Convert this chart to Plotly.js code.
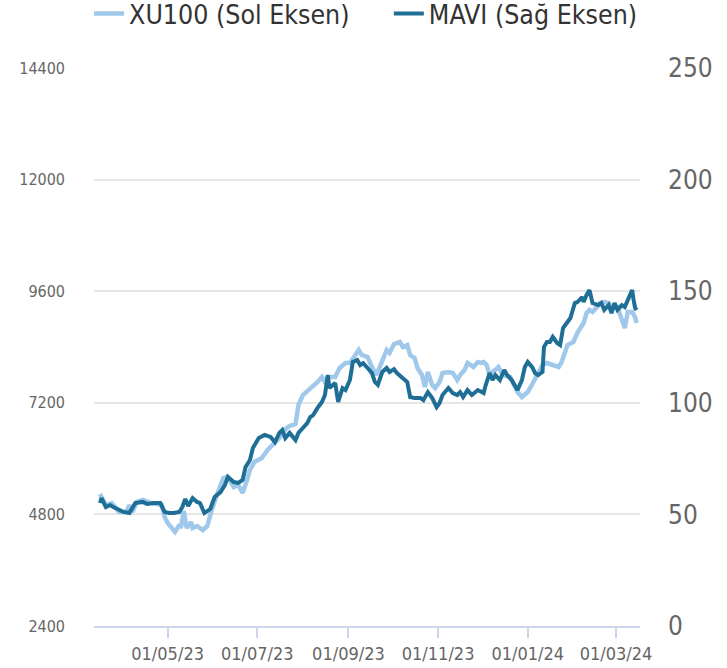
<!DOCTYPE html>
<html>
<head>
<meta charset="utf-8">
<script src="https://cdn.plot.ly/plotly-3.0.1.min.js"></script>
<style>html,body{margin:0;padding:0;background:#fff;}#chart{width:727px;height:668px;}</style>
</head>
<body>
<div id="chart"></div>
<script>
const seriesNames = ["XU100 (Sol Eksen)", "MAVI (Sağ Eksen)"];

const xuDates = ["2023-03-16","2023-03-20","2023-03-24","2023-03-29","2023-04-03","2023-04-05","2023-04-07","2023-04-10","2023-04-14","2023-04-20","2023-04-27","2023-04-29","2023-05-01","2023-05-04","2023-05-06","2023-05-09","2023-05-10","2023-05-12","2023-05-14","2023-05-17","2023-05-18","2023-05-21","2023-05-25","2023-05-28","2023-05-31","2023-06-04","2023-06-08","2023-06-11","2023-06-15","2023-06-18","2023-06-21","2023-06-24","2023-06-26","2023-06-29","2023-07-04","2023-07-08","2023-07-13","2023-07-16","2023-07-21","2023-07-23","2023-07-27","2023-07-29","2023-08-01","2023-08-05","2023-08-07","2023-08-11","2023-08-14","2023-08-16","2023-08-18","2023-08-23","2023-08-26","2023-08-30","2023-09-02","2023-09-06","2023-09-08","2023-09-10","2023-09-14","2023-09-17","2023-09-20","2023-09-22","2023-09-25","2023-09-27","2023-09-29","2023-10-02","2023-10-06","2023-10-08","2023-10-11","2023-10-13","2023-10-16","2023-10-18","2023-10-21","2023-10-23","2023-10-25","2023-10-28","2023-10-30","2023-11-02","2023-11-04","2023-11-08","2023-11-11","2023-11-14","2023-11-16","2023-11-19","2023-11-21","2023-11-25","2023-11-28","2023-11-30","2023-12-02","2023-12-04","2023-12-06","2023-12-08","2023-12-12","2023-12-15","2023-12-20","2023-12-22","2023-12-25","2023-12-28","2024-01-01","2024-01-03","2024-01-05","2024-01-07","2024-01-11","2024-01-14","2024-01-18","2024-01-22","2024-01-24","2024-01-26","2024-01-28","2024-02-01","2024-02-04","2024-02-08","2024-02-10","2024-02-12","2024-02-14","2024-02-17","2024-02-19","2024-02-22","2024-02-25","2024-02-27","2024-02-29","2024-03-02","2024-03-05","2024-03-07","2024-03-09","2024-03-12","2024-03-14","2024-03-15"];
const xuValues = [5239,5002,5045,4852,4852,5002,4852,5067,5110,5045,5002,4744,4615,4507,4421,4572,4507,4873,4507,4637,4507,4551,4464,4551,4895,5260,5583,5604,5389,5432,5260,5540,5755,5927,6013,6185,6335,6443,6658,6701,6744,7153,7368,7475,7518,7647,7755,7647,7755,7755,7948,8056,8056,8271,8335,8228,8185,7970,7798,7948,8185,8335,8271,8464,8507,8400,8443,8228,8163,7948,7798,7540,7862,7583,7518,7647,7841,7862,7841,7690,7798,7905,8056,7970,8077,8056,8077,8013,7798,7862,7970,7798,7755,7626,7432,7325,7432,7540,7647,7755,8013,8056,8013,7970,8077,8292,8443,8507,8722,8916,9131,9196,9153,9260,9346,9368,9346,9260,9239,9260,9024,8808,9153,9153,9045,8916];

const maviDates = ["2023-03-16","2023-03-17","2023-03-20","2023-03-23","2023-03-25","2023-03-29","2023-04-01","2023-04-05","2023-04-09","2023-04-14","2023-04-17","2023-04-22","2023-04-26","2023-04-29","2023-05-02","2023-05-05","2023-05-09","2023-05-11","2023-05-13","2023-05-15","2023-05-18","2023-05-21","2023-05-23","2023-05-26","2023-05-30","2023-06-02","2023-06-06","2023-06-09","2023-06-11","2023-06-15","2023-06-18","2023-06-21","2023-06-23","2023-06-26","2023-06-28","2023-07-02","2023-07-06","2023-07-10","2023-07-13","2023-07-16","2023-07-18","2023-07-20","2023-07-22","2023-07-23","2023-07-27","2023-07-29","2023-08-01","2023-08-04","2023-08-06","2023-08-08","2023-08-11","2023-08-14","2023-08-16","2023-08-18","2023-08-19","2023-08-23","2023-08-25","2023-08-28","2023-08-30","2023-09-02","2023-09-04","2023-09-07","2023-09-09","2023-09-11","2023-09-14","2023-09-17","2023-09-19","2023-09-21","2023-09-24","2023-09-27","2023-09-29","2023-10-02","2023-10-04","2023-10-08","2023-10-11","2023-10-13","2023-10-16","2023-10-20","2023-10-22","2023-10-25","2023-10-28","2023-10-31","2023-11-02","2023-11-04","2023-11-08","2023-11-11","2023-11-14","2023-11-16","2023-11-18","2023-11-21","2023-11-24","2023-11-28","2023-11-30","2023-12-02","2023-12-03","2023-12-05","2023-12-06","2023-12-08","2023-12-10","2023-12-13","2023-12-16","2023-12-18","2023-12-21","2023-12-23","2023-12-25","2023-12-28","2023-12-30","2024-01-01","2024-01-04","2024-01-06","2024-01-08","2024-01-11","2024-01-12","2024-01-14","2024-01-16","2024-01-18","2024-01-21","2024-01-23","2024-01-25","2024-01-28","2024-01-30","2024-02-02","2024-02-04","2024-02-07","2024-02-08","2024-02-10","2024-02-12","2024-02-14","2024-02-18","2024-02-20","2024-02-22","2024-02-25","2024-02-27","2024-02-29","2024-03-02","2024-03-05","2024-03-07","2024-03-09","2024-03-12","2024-03-13","2024-03-14","2024-03-15"];
const maviValues = [55.1,57.3,53.3,54.2,53.3,52.0,51.1,50.6,55.1,55.6,54.7,55.1,55.1,51.1,50.6,50.6,51.1,53.3,56.9,53.8,57.3,55.6,55.1,50.6,52.4,57.8,60.0,63.2,66.8,64.5,64.1,65.4,71.2,74.4,79.7,84.2,85.6,84.7,82.4,86.5,87.8,84.2,85.6,86.5,83.3,86.5,88.7,90.9,93.6,94.5,97.7,100.4,103.5,112.4,106.6,108.9,100.4,106.6,105.7,110.2,118.3,119.2,116.9,117.8,115.6,113.3,109.3,108.0,113.8,115.6,113.8,115.1,113.3,111.1,109.3,102.6,102.1,102.1,101.2,104.8,102.1,98.1,99.9,103.5,106.6,104.4,103.5,104.8,102.6,105.7,103.5,105.7,104.8,104.4,107.1,111.6,113.3,110.2,112.4,110.2,114.7,112.4,110.2,108.0,105.7,110.2,116.0,118.3,116.0,113.3,112.4,113.8,125.0,127.2,127.2,129.5,126.8,125.9,133.5,136.2,138.0,144.7,145.2,147.4,145.2,148.3,150.5,144.7,143.8,144.7,141.6,143.8,140.2,144.7,141.6,143.8,142.9,146.0,150.5,146.0,142.5,141.6];

const xTickVals = ["2023-05-01","2023-07-01","2023-09-01","2023-11-01","2024-01-01","2024-03-01"];
const xTickText = ["01/05/23","01/07/23","01/09/23","01/11/23","01/01/24","01/03/24"];
const leftTicks = [2400,4800,7200,9600,12000,14400];
const leftTickText = ["2400","4800","7200","9600","12000","14400"];
const rightTicks = [0,50,100,150,200,250];

const FONT = "'DejaVu Sans Condensed', 'DejaVu Sans', sans-serif";

const traces = [
  {x: xuDates, y: xuValues, name: seriesNames[0], type: "scatter", mode: "lines",
   line: {color: "#a0c8eb", width: 4.5}, yaxis: "y", legend: "legend"},
  {x: maviDates, y: maviValues, name: seriesNames[1], type: "scatter", mode: "lines",
   line: {color: "#1e6e96", width: 4}, yaxis: "y2", legend: "legend2"}
];

const legendFont = {family: FONT, size: 26.5, color: "#333333"};
const layout = {
  width: 727, height: 668,
  margin: {l: 94, r: 87, t: 68, b: 42, autoexpand: false},
  paper_bgcolor: "#ffffff", plot_bgcolor: "#ffffff",
  font: {family: FONT, color: "#666666"},
  showlegend: true,
  legend: {orientation: "h", x: -0.009, xanchor: "left", y: 1.097, yanchor: "middle",
           font: legendFont, itemwidth: 30, bgcolor: "rgba(0,0,0,0)"},
  legend2: {orientation: "h", x: 0.540, xanchor: "left", y: 1.097, yanchor: "middle",
           font: legendFont, itemwidth: 30, bgcolor: "rgba(0,0,0,0)"},
  xaxis: {type: "date", range: ["2023-03-11 22:00", "2024-03-17 08:00"],
          tickmode: "array", tickvals: xTickVals, ticktext: xTickText,
          showgrid: false, zeroline: false, showline: true, linecolor: "#ccd6eb", linewidth: 2,
          ticks: "outside", ticklen: 10, tickwidth: 2, tickcolor: "#ccd6eb",
          tickfont: {family: FONT, size: 18, color: "#666666"}, fixedrange: true},
  yaxis: {range: [2400, 14400], tickmode: "array", tickvals: leftTicks, ticktext: leftTickText,
          showgrid: true, gridcolor: "#e6e6e6", gridwidth: 2, zeroline: false, showline: false,
          ticks: "", ticklabelstandoff: 28,
          tickfont: {family: FONT, size: 16, color: "#666666"}, fixedrange: true},
  yaxis2: {range: [0, 250], overlaying: "y", side: "right", tickmode: "array", tickvals: rightTicks,
           showgrid: false, zeroline: false, showline: false, ticks: "", ticklabelstandoff: 27,
           tickfont: {family: FONT, size: 26, color: "#666666"}, fixedrange: true}
};

Plotly.newPlot("chart", traces, layout, {displayModeBar: false, staticPlot: true});
</script>
</body>
</html>
